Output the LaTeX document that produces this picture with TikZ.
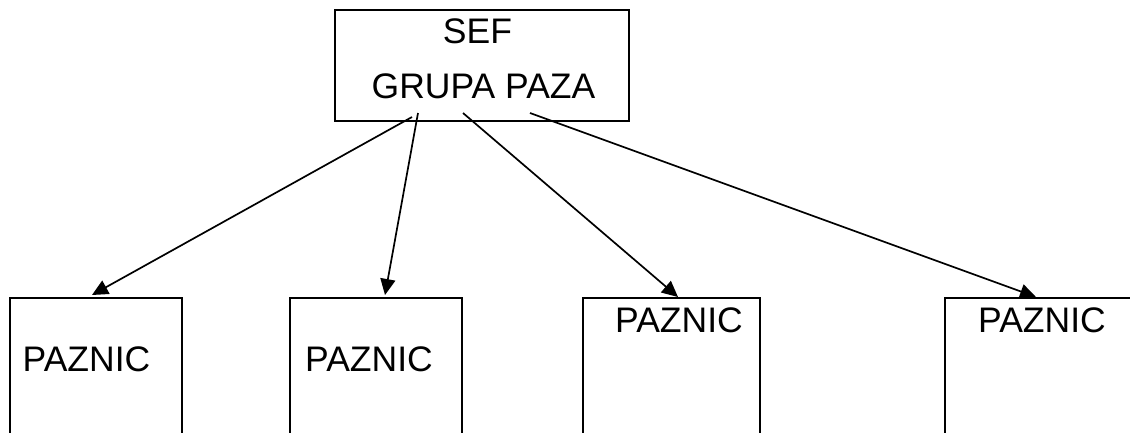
\documentclass[tikz,border=0pt]{standalone}
\usepackage{fontspec}
\setmainfont{Liberation Sans}
\usetikzlibrary{arrows.meta}
\begin{document}
\begin{tikzpicture}[x=1pt,y=-1pt,
  box/.style={draw,line width=2pt,inner sep=0pt,outer sep=0pt},
  lbl/.style={font=\fontsize{35.5}{42}\selectfont,inner sep=0pt,anchor=base},
  conn/.style={line width=1.7pt,-{Triangle[length=16pt,width=15pt]}}]
\useasboundingbox (0,0) rectangle (1130,432);
\clip (0,0) rectangle (1130,432);
\node[box,minimum width=294pt,minimum height=111pt] (top) at (482,65.5) {};
\node[box,minimum width=172pt,minimum height=152pt] (b1) at (96,374) {};
\node[box,minimum width=172pt,minimum height=152pt] (b2) at (376,374) {};
\node[box,minimum width=177pt,minimum height=152pt] (b3) at (671.5,374) {};
\node[box,minimum width=195pt,minimum height=152pt] (b4) at (1042.5,374) {};
\node[lbl] (t1) at (477.5,43) {SEF};
\node[lbl] (t2) at (483.5,98) {GRUPA PAZA};
\node[lbl] (l1) at (86.5,371) {PAZNIC};
\node[lbl] (l2) at (369,371) {PAZNIC};
\node[lbl] (l3) at (679,332) {PAZNIC};
\node[lbl] (l4) at (1042,332) {PAZNIC};
\draw[conn] ([shift={(77,-4)}]top.south west) -- ([shift={(82,-3)}]b1.north west);
\draw[conn] ([shift={(83,-8)}]top.south west) -- ([shift={(95,-3)}]b2.north west);
\draw[conn] ([shift={(128,-8)}]top.south west) -- ([shift={(95,-1)}]b3.north west);
\draw[conn] ([shift={(195,-8)}]top.south west) -- ([shift={(91,-1)}]b4.north west);
\end{tikzpicture}
\end{document}
